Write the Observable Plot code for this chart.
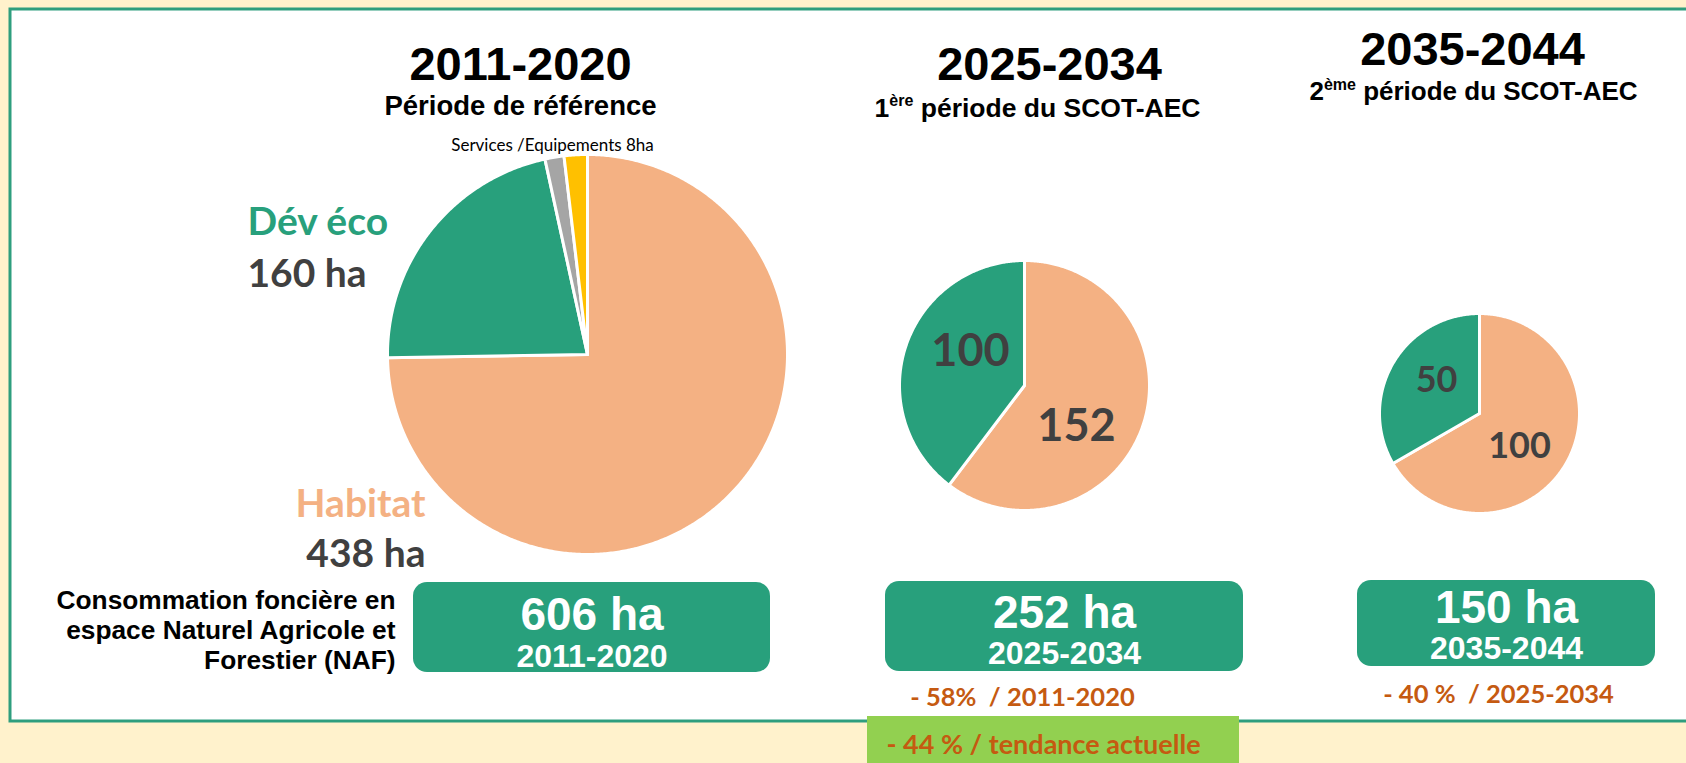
<!DOCTYPE html>
<html><head><meta charset="utf-8">
<script src="https://cdn.jsdelivr.net/npm/d3@7"></script>
<script src="https://cdn.jsdelivr.net/npm/@observablehq/plot@0.6"></script>
<style>html,body{margin:0;padding:0;background:#FFF2CC;overflow:hidden}</style>
</head><body><div id="chart"></div>
<script>
// ---------------- DATA ----------------
const periods = ["2011-2020", "2025-2034", "2035-2044"];
const periodSubtitles = ["Période de référence", "1ère période du SCOT-AEC", "2ème période du SCOT-AEC"];
const totalsHa = [606, 252, 150];
const categories = ["Habitat", "Dév éco", "Autre", "Services /Equipements"];
// slice sizes as drawn in the picture (clockwise from 12 o'clock)
const slices2011 = [438, 128, 9, 11];
const slices2025 = [152, 100, 0, 0];
const slices2035 = [100, 50, 0, 0];
// external labels of the reference-period pie
const devEcoLabel = ["Dév éco", "160 ha"];
const habitatLabel = ["Habitat", "438 ha"];
const servicesLabel = "Services /Equipements 8ha";
// inner value labels of the two projection pies
const innerLabels2025 = ["152", "100"];
const innerLabels2035 = ["100", "50"];
const nafLabel = "Consommation foncière en\nespace Naturel Agricole et\nForestier (NAF)";
const changeLabels = ["- 58%  / 2011-2020", "- 40 %  / 2025-2034"];
const trendLabel = "- 44 % / tendance actuelle";

// ---------------- STYLE / LAYOUT ----------------
const W = 1686, H = 763;
const catColors = ["#F4B183", "#28A07C", "#A5A5A5", "#FFC000"];
const GREEN = "#28A07C", DARK = "#404040", ORANGE_TXT = "#C55A11";
const ARIAL = "Liberation Sans, Arial, sans-serif";
const CALIBRI = "Lato, Carlito, Calibri, sans-serif";
const L = {
  pies: [{cx: 587, cy: 354, r: 200}, {cx: 1024, cy: 385, r: 125}, {cx: 1479, cy: 413, r: 100}],
  titles: [{x: 520, y: 79}, {x: 1049, y: 79}, {x: 1472, y: 64}],
  subs: [{x: 520, y: 114, s: 27.5}, {x: 1037, y: 116, s: 26.5}, {x: 1473, y: 99, s: 26}],
  boxes: [{x1: 413, x2: 770, y1: 582, y2: 672}, {x1: 885, x2: 1243, y1: 581, y2: 671}, {x1: 1357, x2: 1655, y1: 580, y2: 666}],
  boxBig: [629, 627, 622], boxSmall: [666, 663, 658],
  devEco: {x: 247, y: [234, 286]},
  habitat: {x: 425, y: [516, 566]},
  inner2025: [{x: 1076, y: 440}, {x: 970, y: 365}],
  inner2035: [{x: 1519, y: 457}, {x: 1436, y: 391}],
  changes: [{x: 1022, y: 705}, {x: 1498, y: 702}]
};

function piePoints(values, pieIdx) {
  const {cx, cy, r} = L.pies[pieIdx];
  const total = d3.sum(values);
  const pts = [];
  let a = 0;
  values.forEach((v, i) => {
    if (!v) return;
    const a0 = a, a1 = a + v / total * 2 * Math.PI; a = a1;
    const n = Math.max(2, Math.ceil((a1 - a0) / (Math.PI / 360)));
    const poly = [{x: cx, y: cy}];
    for (let k = 0; k <= n; k++) {
      const t = a0 + (a1 - a0) * k / n;
      poly.push({x: cx + r * Math.sin(t), y: cy - r * Math.cos(t)});
    }
    poly.push({x: cx, y: cy});
    poly.forEach(p => pts.push({...p, cat: categories[i], key: pieIdx + "-" + i}));
  });
  return pts;
}
const pieData = [...piePoints(slices2011, 0), ...piePoints(slices2025, 1), ...piePoints(slices2035, 2)];

const txt = (data, o) => Plot.text(data, {lineAnchor: "bottom", ...o});

const chart = Plot.plot({
  width: W, height: H,
  margin: 0,
  x: {domain: [0, W], range: [0, W], axis: null},
  y: {domain: [0, H], range: [0, H], axis: null},
  color: {domain: categories, range: catColors},
  style: {background: "transparent", overflow: "visible"},
  marks: [
    // panel
    Plot.rect([0], {x1: 10, x2: W + 20, y1: 9, y2: 721, fill: "white", stroke: "#2E9E7E", strokeWidth: 3}),
    // pies
    Plot.line(pieData, {x: "x", y: "y", z: "key", fill: "cat", stroke: "white", strokeWidth: 3, strokeLinejoin: "round"}),
    // titles
    txt(periods, {x: (d, i) => L.titles[i].x, y: (d, i) => L.titles[i].y, text: d => d, fontSize: 47, fontWeight: "bold", fontFamily: ARIAL, fill: "black"}),
    txt(periodSubtitles, {x: (d, i) => L.subs[i].x, y: (d, i) => L.subs[i].y, text: d => d, fontSize: (d, i) => L.subs[i].s, fontWeight: "bold", fontFamily: ARIAL, fill: "black"}),
    // external labels pie 1
    txt(devEcoLabel, {x: L.devEco.x, y: (d, i) => L.devEco.y[i], text: d => d, textAnchor: "start", fontSize: 39, fontWeight: "bold", fontFamily: CALIBRI, fill: (d, i) => i === 0 ? GREEN : DARK}),
    txt(habitatLabel, {x: L.habitat.x, y: (d, i) => L.habitat.y[i], text: d => d, textAnchor: "end", fontSize: 39, fontWeight: "bold", fontFamily: CALIBRI, fill: (d, i) => i === 0 ? "#F4B183" : DARK}),
    txt([servicesLabel], {x: 552, y: 150, text: d => d, fontSize: 17, fontFamily: CALIBRI, fill: "black"}),
    // inner labels
    txt(innerLabels2025, {x: (d, i) => L.inner2025[i].x, y: (d, i) => L.inner2025[i].y, text: d => d, fontSize: 45, fontWeight: "bold", fontFamily: CALIBRI, fill: DARK}),
    txt(innerLabels2035, {x: (d, i) => L.inner2035[i].x, y: (d, i) => L.inner2035[i].y, text: d => d, fontSize: 36, fontWeight: "bold", fontFamily: CALIBRI, fill: DARK}),
    // total boxes
    Plot.rect(totalsHa, {x1: (d, i) => L.boxes[i].x1, x2: (d, i) => L.boxes[i].x2, y1: (d, i) => L.boxes[i].y1, y2: (d, i) => L.boxes[i].y2, fill: GREEN, rx: 14}),
    txt(totalsHa, {x: (d, i) => (L.boxes[i].x1 + L.boxes[i].x2) / 2, y: (d, i) => L.boxBig[i], text: d => d + " ha", fontSize: 46, fontWeight: "bold", fontFamily: ARIAL, fill: "white"}),
    txt(periods, {x: (d, i) => (L.boxes[i].x1 + L.boxes[i].x2) / 2, y: (d, i) => L.boxSmall[i], text: d => d, fontSize: 32, fontWeight: "bold", fontFamily: ARIAL, fill: "white"}),
    // NAF label
    Plot.text([nafLabel], {x: 395, y: 668, text: d => d, lineAnchor: "bottom", textAnchor: "end", fontSize: 26.3, lineHeight: 1.13, fontWeight: "bold", fontFamily: ARIAL, fill: "black"}),
    // change labels
    txt(changeLabels, {x: (d, i) => L.changes[i].x, y: (d, i) => L.changes[i].y, text: d => d, fontSize: 25.5, fontWeight: "bold", fontFamily: CALIBRI, fill: ORANGE_TXT}),
    Plot.rect([trendLabel], {x1: 867, x2: 1239, y1: 716, y2: H + 5, fill: "#92D050"}),
    txt([trendLabel], {x: 1043, y: 753, text: d => d, fontSize: 27, fontWeight: "bold", fontFamily: CALIBRI, fill: ORANGE_TXT})
  ]
});
document.getElementById("chart").appendChild(chart);

// superscripts for "1ère" / "2ème"
chart.querySelectorAll("text").forEach(t => {
  const s = t.textContent;
  const m = s.match(/^(\d)(ère|ème)( .*)$/);
  if (!m) return;
  const fs = parseFloat(t.getAttribute("font-size")) || parseFloat(getComputedStyle(t).fontSize) || 24;
  const ns = "http://www.w3.org/2000/svg";
  t.textContent = "";
  const a = document.createElementNS(ns, "tspan"); a.textContent = m[1];
  const b = document.createElementNS(ns, "tspan"); b.textContent = m[2];
  b.setAttribute("font-size", Math.round(fs * 0.6)); b.setAttribute("dy", -fs * 0.38);
  const c = document.createElementNS(ns, "tspan"); c.textContent = m[3];
  c.setAttribute("dy", fs * 0.38);
  t.append(a, b, c);
});
</script></body></html>
